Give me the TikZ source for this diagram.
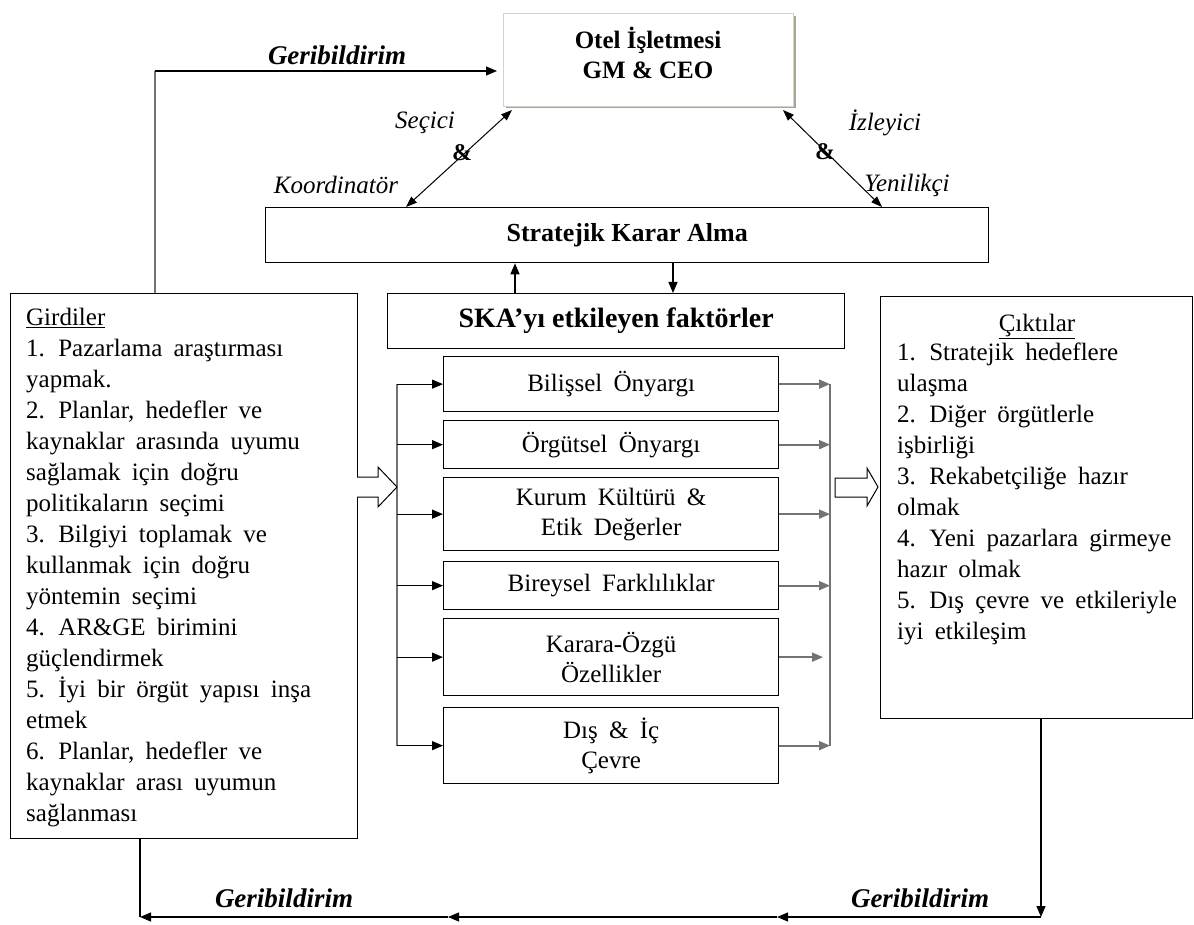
\documentclass[tikz,border=0pt]{standalone}
\usepackage{fontspec}
\setmainfont{Liberation Serif}
\usetikzlibrary{arrows.meta}
\definecolor{shadowolive}{RGB}{160,172,138}
\definecolor{linegray}{RGB}{115,115,115}
\newcommand\widewordspace{\spaceskip=0.45em\relax}
\begin{document}
\begin{tikzpicture}[x=1pt,y=-1pt,
  box/.style={draw=black, line width=1.3pt, fill=white, inner sep=0pt, anchor=north west, align=center},
  plain/.style={font=\fontsize{25}{31}\selectfont\widewordspace},
  facbox/.style={box, minimum width=335pt, font=\fontsize{25}{30}\selectfont\widewordspace},
  lab/.style={font=\itshape\fontsize{25}{30}\selectfont},
  amp/.style={font=\bfseries\fontsize{24}{30}\selectfont},
  fb/.style={font=\bfseries\itshape\fontsize{27}{30}\selectfont},
  arr/.style={-{Triangle[length=11pt,width=9pt]}, line width=1.2pt, draw=black},
  garr/.style={-{Triangle[length=11pt,width=9pt]}, line width=1.8pt, draw=linegray},
  gline/.style={line width=1.6pt, draw=linegray},
  darr/.style={{Triangle[length=11pt,width=8pt]}-{Triangle[length=11pt,width=8pt]}, line width=1pt},
  hollow/.style={line width=1pt, draw=black, fill=white}
]
\fill[white] (0,0) rectangle (1194,925);
\useasboundingbox (0,0) rectangle (1194,925);

% top management box with its soft shadow
\fill[shadowolive] (506,16) rectangle (796,108);
\node[box, draw=gray!35, line width=1pt, minimum width=290pt, minimum height=93pt] (otel) at (503,13) {};
\node[align=center, font=\bfseries\fontsize{25}{30}\selectfont] (oteltxt) at (648,53) {Otel İşletmesi\\GM \& CEO};

% decision and factor header boxes
\node[box, minimum width=723pt, minimum height=55pt,
      font=\bfseries\fontsize{26}{30}\selectfont] (ska) at (265,207) {Stratejik Karar Alma};
\node[box, minimum width=457pt, minimum height=55pt,
      font=\bfseries\fontsize{28}{30}\selectfont] (fac) at (387,293) {SKA’yı etkileyen faktörler};

% factor boxes
\node[facbox, minimum height=55pt] (b1) at (443,356) {Bilişsel Önyargı};
\node[facbox, minimum height=48pt] (b2) at (443,420) {Örgütsel Önyargı};
\node[facbox, minimum height=73pt] (b3) at (443,477) {Kurum Kültürü \&\\Etik Değerler};
\node[facbox, minimum height=48pt] (b4) at (443,561) {Bireysel Farklılıklar};
\node[facbox, minimum height=77pt] (b5) at (443,618) {Karara-Özgü\\Özellikler};
\node[facbox, minimum height=76pt] (b6) at (443,707) {Dış \& İç\\Çevre};

% inputs and outputs
\node[box, minimum width=347pt, minimum height=545pt] (gir) at (10,293) {};
\node[plain, anchor=north west, align=left, inner sep=0pt] (gtxt) at (26,308)
 {\underline{Girdiler}\\
  1. Pazarlama araştırması\\
  yapmak.\\
  2. Planlar, hedefler ve\\
  kaynaklar arasında uyumu\\
  sağlamak için doğru\\
  politikaların seçimi\\
  3. Bilgiyi toplamak ve\\
  kullanmak için doğru\\
  yöntemin seçimi\\
  4. AR\&GE birimini\\
  güçlendirmek\\
  5. İyi bir örgüt yapısı inşa\\
  etmek\\
  6. Planlar, hedefler ve\\
  kaynaklar arası uyumun\\
  sağlanması};

\node[box, minimum width=312pt, minimum height=422pt] (cik) at (880,296) {};
\node[plain, anchor=base, inner sep=0pt] (ctitle) at (1037,331) {\underline{Çıktılar}};
\node[plain, anchor=north west, align=left, inner sep=0pt] (ctxt) at (897,343)
 {1. Stratejik hedeflere\\
  ulaşma\\
  2. Diğer örgütlerle\\
  işbirliği\\
  3. Rekabetçiliğe hazır\\
  olmak\\
  4. Yeni pazarlara girmeye\\
  hazır olmak\\
  5. Dış çevre ve etkileriyle\\
  iyi etkileşim};

% role links between management and decision making
\coordinate (dla) at (512,110);
\coordinate (dlb) at (406,207);
\coordinate (dra) at (783,110);
\coordinate (drb) at (882,207);
\draw[darr] (dla) -- (dlb);
\draw[darr] (dra) -- (drb);
\node[lab] (sec) at (425,123) {Seçici};
\node[amp] (amp1) at (462,153) {\&};
\node[lab] (koo) at (336,185) {Koordinatör};
\node[lab] (izl) at (885,123) {İzleyici};
\node[amp] (amp2) at (825,152) {\&};
\node[lab] (yen) at (907,185) {Yenilikçi};

% decision <-> factors
\coordinate (upx) at (515,0);
\coordinate (dnx) at (673,0);
\draw[arr] (fac.north -| upx) -- (ska.south -| upx);
\draw[arr] (ska.south -| dnx) -- (fac.north -| dnx);

% distribution into the factors
\coordinate (lv) at (397,0);
\draw[gline] (lv |- b1.west) -- (lv |- b6.west);
\foreach \b in {b1,b2,b3,b4,b5,b6} \draw[arr] (lv |- \b.west) -- (\b.west);

% collection out of the factors
\coordinate (rv) at (830,0);
\draw[gline] (rv |- b1.east) -- (rv |- b6.east);
\foreach \b in {b1,b2,b3,b4,b6} \draw[garr] (\b.east) -- (rv |- \b.east);
\draw[garr] (b5.east) -- ([xshift=-7pt]rv |- b5.east);

% hollow flow arrows
\fill[white] (357,477) -- (378,477) -- (378,467) -- (397,487) -- (378,507) -- (378,497) -- (357,497) -- cycle;
\draw[hollow] (357,477) -- (378,477) -- (378,467) -- (397,487) -- (378,507) -- (378,497) -- (357,497);
\draw[hollow] (835,478) -- (867,478) -- (867,468) -- (878,487) -- (867,506) -- (867,497) -- (835,497) -- cycle;

% feedback from inputs to management
\coordinate (tl) at (155,71);
\draw[gline] (gir.north -| tl) -- (tl);
\draw[arr] (tl) -- ([xshift=-6pt]otel.west |- tl);
\node[fb] (gb1) at (337,55) {Geribildirim};

% feedback from outputs back to inputs
\coordinate (br) at (1041,917);
\coordinate (m1) at (777,917);
\coordinate (m2) at (448,917);
\coordinate (bl) at (140,917);
\draw[arr] (cik.south -| br) -- (br);
\draw[arr] (br) -- (m1);
\draw[arr] (m1) -- (m2);
\draw[arr] (m2) -- (bl);
\draw[line width=1.2pt] (gir.south -| bl) -- (bl);
\node[fb] (gb2) at (284,898) {Geribildirim};
\node[fb] (gb3) at (920,898) {Geribildirim};
\end{tikzpicture}
\end{document}
